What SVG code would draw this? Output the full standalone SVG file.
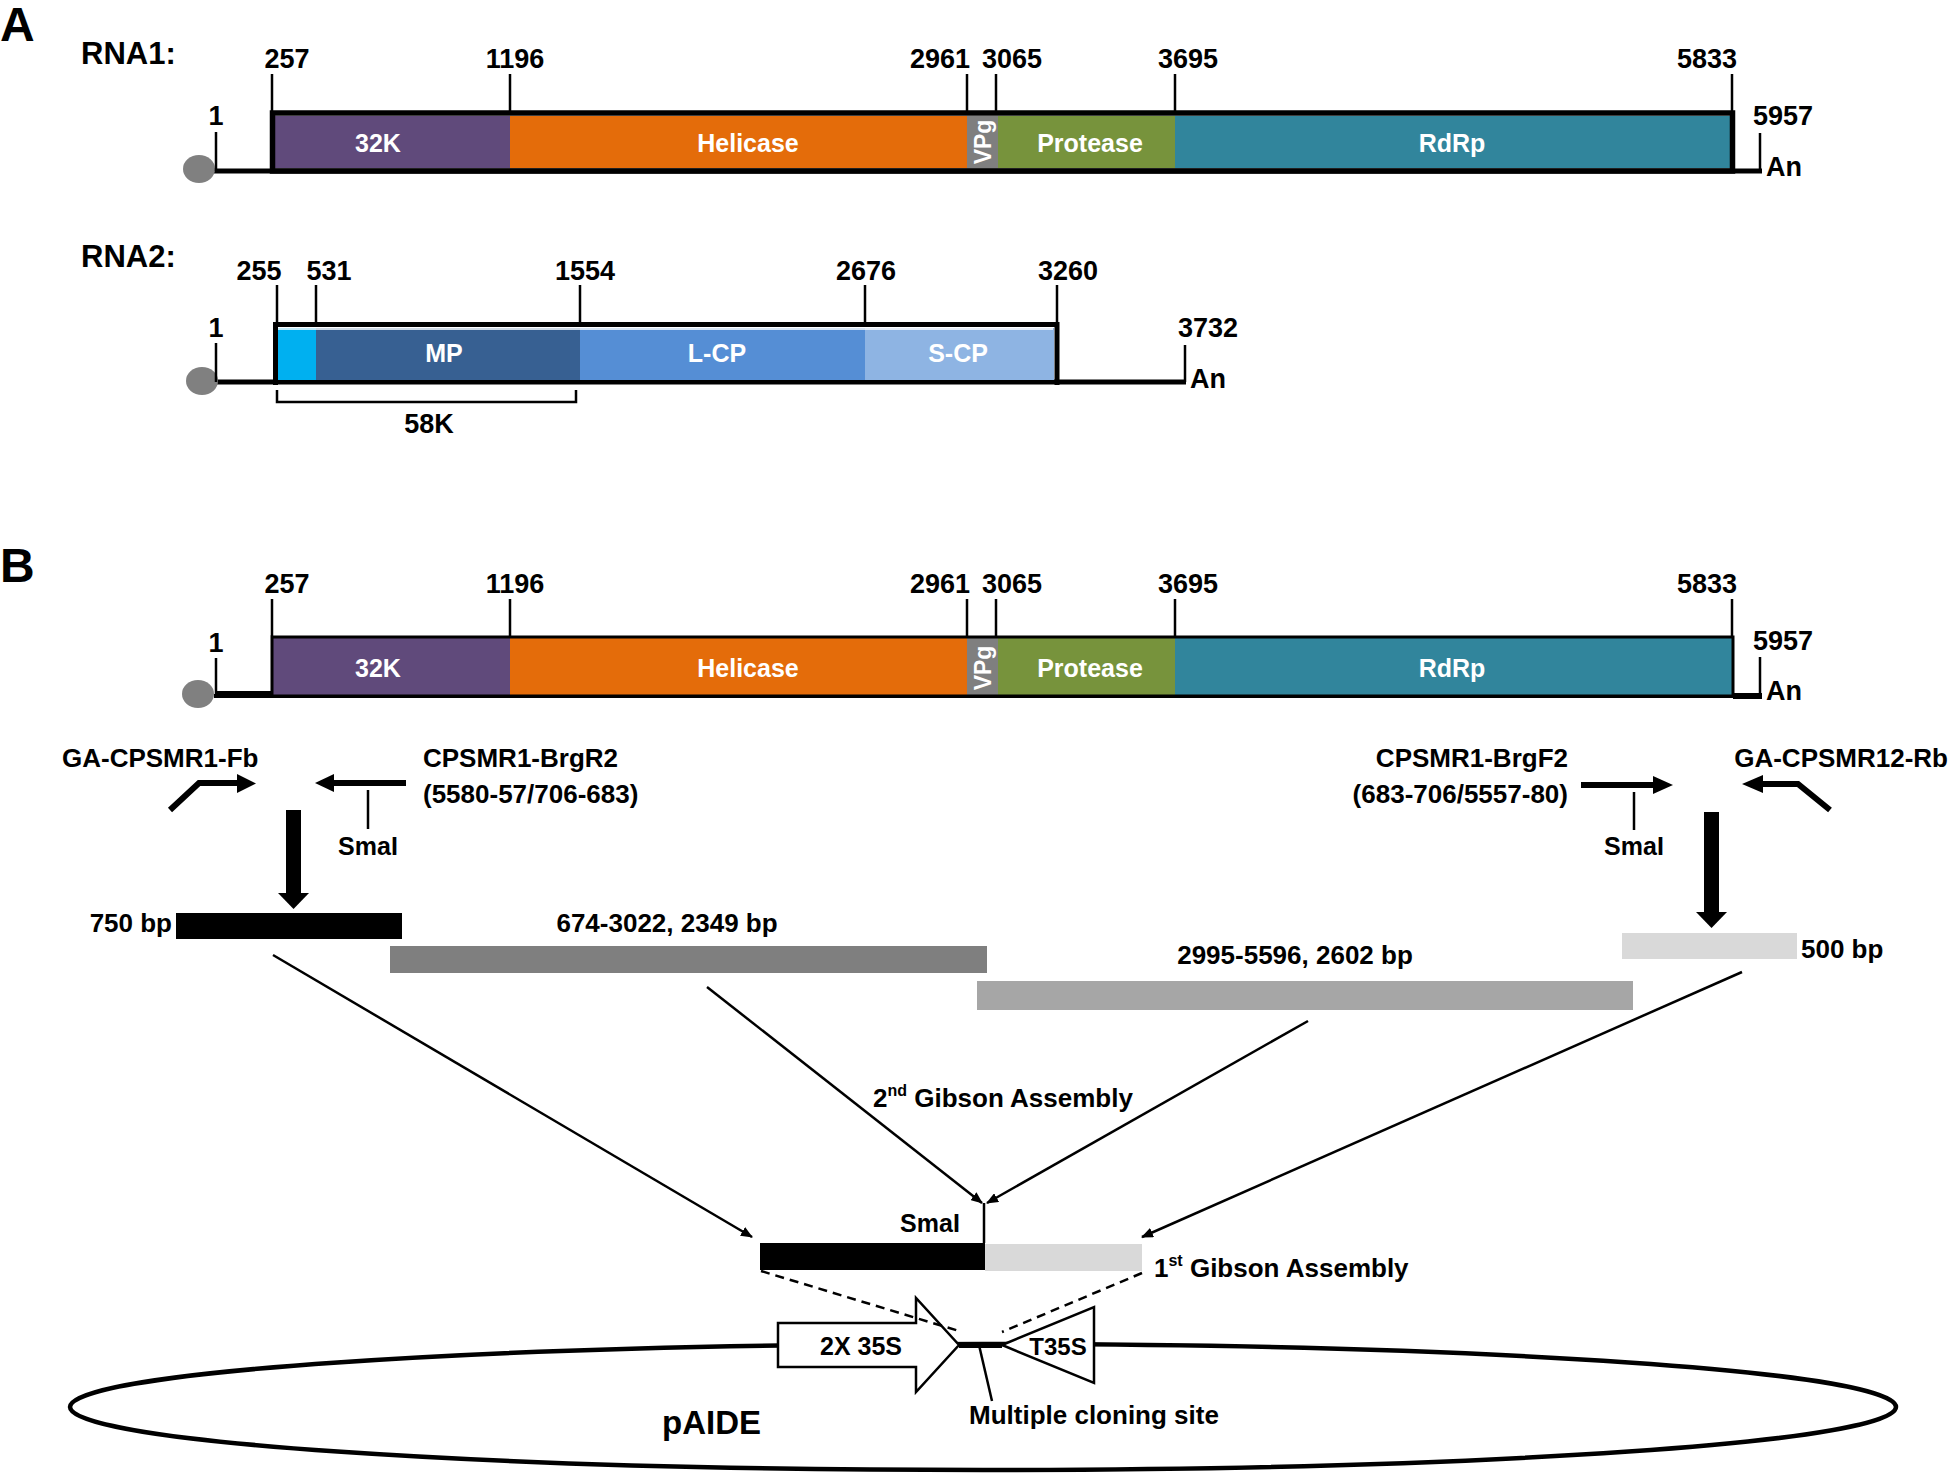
<svg xmlns="http://www.w3.org/2000/svg" width="1952" height="1477" viewBox="0 0 1952 1477">
<defs>
<style>
text{font-family:"Liberation Sans",Arial,sans-serif;font-weight:bold;fill:#000}
.big{font-size:48px}
.ttl{font-size:31px}
.num{font-size:27px;text-anchor:middle}
.seg{font-size:25px;fill:#fff;text-anchor:middle}
.vpg{font-size:23px;fill:#fff;text-anchor:middle}
.lbl{font-size:26px}
.sm{font-size:25px;text-anchor:middle}
.an{font-size:27px}
.mid{text-anchor:middle}
.end{text-anchor:end}
.tk{stroke:#000;stroke-width:2.5;fill:none}
.bb{stroke:#000;stroke-width:5;fill:none}
.con{stroke:#000;stroke-width:2.5;fill:none}
.dash{stroke:#000;stroke-width:2.5;fill:none;stroke-dasharray:9 6}
.cap{fill:#808080}
</style>
<marker id="ah" viewBox="0 0 12 10" refX="11" refY="5" markerWidth="12" markerHeight="10" markerUnits="userSpaceOnUse" orient="auto">
<path d="M0,0 L12,5 L0,10 Z" fill="#000"/>
</marker>
</defs>

<g id="panelA">
<text class="big" x="0" y="41">A</text>
<g id="rna1">
<text class="ttl" x="81" y="64">RNA1:</text>
<line class="bb" x1="214" y1="171" x2="1762" y2="171"/>
<ellipse class="cap" cx="199" cy="169" rx="16" ry="14"/>
<line class="tk" x1="216" y1="132" x2="216" y2="171"/>
<text class="num" x="216" y="125">1</text>
<rect x="273" y="116" width="237" height="52" fill="#604A7B"/>
<rect x="510" y="116" width="457" height="52" fill="#E46C0A"/>
<rect x="967" y="116" width="31" height="52" fill="#7F7F7F"/>
<rect x="998" y="116" width="177" height="52" fill="#77933C"/>
<rect x="1175" y="116" width="557" height="52" fill="#31859C"/>
<rect x="272.5" y="113" width="1460" height="58" fill="none" stroke="#000" stroke-width="5.5"/>
<text class="seg" x="378" y="152">32K</text>
<text class="seg" x="748" y="152">Helicase</text>
<text class="seg" x="1090" y="152">Protease</text>
<text class="seg" x="1452" y="152">RdRp</text>
<text class="vpg" transform="translate(991,142) rotate(-90)">VPg</text>
<g class="tk">
<line x1="272" y1="74" x2="272" y2="111"/>
<line x1="510" y1="74" x2="510" y2="111"/>
<line x1="967" y1="74" x2="967" y2="111"/>
<line x1="996" y1="74" x2="996" y2="111"/>
<line x1="1175" y1="74" x2="1175" y2="111"/>
<line x1="1732" y1="74" x2="1732" y2="111"/>
<line x1="1760" y1="133" x2="1760" y2="171"/>
</g>
<text class="num" x="287" y="68">257</text>
<text class="num" x="515" y="68">1196</text>
<text class="num" x="940" y="68">2961</text>
<text class="num" x="1012" y="68">3065</text>
<text class="num" x="1188" y="68">3695</text>
<text class="num" x="1707" y="68">5833</text>
<text class="num" x="1783" y="125">5957</text>
<text class="an" x="1766" y="176">An</text>
</g>

<g id="rna2">
<text class="ttl" x="81" y="267">RNA2:</text>
<line class="bb" x1="214" y1="382" x2="1186" y2="382"/>
<ellipse class="cap" cx="202" cy="381" rx="16" ry="14"/>
<line class="tk" x1="216" y1="343" x2="216" y2="382"/>
<text class="num" x="216" y="337">1</text>
<rect x="277" y="328" width="39" height="52" fill="#00B0F0"/>
<rect x="316" y="328" width="264" height="52" fill="#376092"/>
<rect x="580" y="328" width="285" height="52" fill="#558ED5"/>
<rect x="865" y="328" width="189" height="52" fill="#8EB4E3"/>
<line x1="278" y1="329" x2="1053" y2="329" stroke="#fff" stroke-width="1.5"/>
<path d="M275.5,385 V324.5 H1057 V385" fill="none" stroke="#000" stroke-width="5"/>
<text class="seg" x="444" y="362">MP</text>
<text class="seg" x="717" y="362">L-CP</text>
<text class="seg" x="958" y="362">S-CP</text>
<g class="tk">
<line x1="277" y1="285" x2="277" y2="323"/>
<line x1="316" y1="285" x2="316" y2="323"/>
<line x1="580" y1="285" x2="580" y2="323"/>
<line x1="865" y1="285" x2="865" y2="323"/>
<line x1="1057" y1="285" x2="1057" y2="323"/>
<line x1="1185" y1="345" x2="1185" y2="382"/>
<path d="M277,390 V402 H576 V390"/>
</g>
<text class="num" x="259" y="280">255</text>
<text class="num" x="329" y="280">531</text>
<text class="num" x="585" y="280">1554</text>
<text class="num" x="866" y="280">2676</text>
<text class="num" x="1068" y="280">3260</text>
<text class="num" x="1208" y="337">3732</text>
<text class="an" x="1190" y="388">An</text>
<text class="num" x="429" y="433">58K</text>
</g>
</g>

<g id="panelB">
<text class="big" x="0" y="582">B</text>
<g id="rna1b">
<line x1="214" y1="696" x2="1762" y2="696" stroke="#000" stroke-width="4"/>
<line x1="216" y1="694" x2="272" y2="694" stroke="#000" stroke-width="6"/>
<ellipse class="cap" cx="198" cy="694" rx="16" ry="14"/>
<line class="tk" x1="216" y1="658" x2="216" y2="696"/>
<text class="num" x="216" y="652">1</text>
<rect x="273" y="638" width="237" height="57" fill="#604A7B"/>
<rect x="510" y="638" width="457" height="57" fill="#E46C0A"/>
<rect x="967" y="638" width="31" height="57" fill="#7F7F7F"/>
<rect x="998" y="638" width="177" height="57" fill="#77933C"/>
<rect x="1175" y="638" width="557" height="57" fill="#31859C"/>
<rect x="272" y="637" width="1461" height="59" fill="none" stroke="#000" stroke-width="3"/>
<line x1="1733" y1="696" x2="1762" y2="696" stroke="#000" stroke-width="6"/>
<text class="seg" x="378" y="677">32K</text>
<text class="seg" x="748" y="677">Helicase</text>
<text class="seg" x="1090" y="677">Protease</text>
<text class="seg" x="1452" y="677">RdRp</text>
<text class="vpg" transform="translate(991,668) rotate(-90)">VPg</text>
<g class="tk">
<line x1="272" y1="599" x2="272" y2="636"/>
<line x1="510" y1="599" x2="510" y2="636"/>
<line x1="967" y1="599" x2="967" y2="636"/>
<line x1="996" y1="599" x2="996" y2="636"/>
<line x1="1175" y1="599" x2="1175" y2="636"/>
<line x1="1732" y1="599" x2="1732" y2="636"/>
<line x1="1760" y1="657" x2="1760" y2="696"/>
</g>
<text class="num" x="287" y="593">257</text>
<text class="num" x="515" y="593">1196</text>
<text class="num" x="940" y="593">2961</text>
<text class="num" x="1012" y="593">3065</text>
<text class="num" x="1188" y="593">3695</text>
<text class="num" x="1707" y="593">5833</text>
<text class="num" x="1783" y="650">5957</text>
<text class="an" x="1766" y="700">An</text>
</g>

<g id="primersLeft">
<text class="lbl" x="62" y="767">GA-CPSMR1-Fb</text>
<polyline points="170,810 199,783 240,783" fill="none" stroke="#000" stroke-width="6"/>
<polygon points="237,774 256,783.5 237,793" fill="#000"/>
<text class="lbl" x="423" y="767">CPSMR1-BrgR2</text>
<text class="lbl" x="423" y="803">(5580-57/706-683)</text>
<line x1="406" y1="783" x2="330" y2="783" stroke="#000" stroke-width="6"/>
<polygon points="334,774 315,783 334,792" fill="#000"/>
<line class="tk" x1="368" y1="790" x2="368" y2="829" stroke-width="2"/>
<text class="sm" x="368" y="855">SmaI</text>
<rect x="286" y="810" width="15" height="84" fill="#000"/>
<polygon points="278,893 309,893 293.5,909" fill="#000"/>
</g>

<g id="primersRight">
<text class="lbl end" x="1568" y="767">CPSMR1-BrgF2</text>
<text class="lbl end" x="1568" y="803">(683-706/5557-80)</text>
<line x1="1581" y1="785" x2="1656" y2="785" stroke="#000" stroke-width="6"/>
<polygon points="1653,776 1673,785 1653,794" fill="#000"/>
<line class="tk" x1="1634" y1="792" x2="1634" y2="830" stroke-width="2"/>
<text class="sm" x="1634" y="855">SmaI</text>
<text class="lbl end" x="1948" y="767">GA-CPSMR12-Rb</text>
<polyline points="1830,810 1798,784 1760,784" fill="none" stroke="#000" stroke-width="6"/>
<polygon points="1763,775 1742,784 1763,793" fill="#000"/>
<rect x="1704" y="812" width="15" height="101" fill="#000"/>
<polygon points="1696,912 1727,912 1711.5,928" fill="#000"/>
</g>

<g id="fragments">
<text class="lbl end" x="172" y="932">750 bp</text>
<rect x="176" y="913" width="226" height="26" fill="#000"/>
<text class="lbl mid" x="667" y="932">674-3022, 2349 bp</text>
<rect x="390" y="946" width="597" height="27" fill="#7F7F7F"/>
<text class="lbl mid" x="1295" y="964">2995-5596, 2602 bp</text>
<rect x="977" y="981" width="656" height="29" fill="#A6A6A6"/>
<rect x="1622" y="933" width="175" height="26" fill="#D9D9D9"/>
<text class="lbl" x="1801" y="958">500 bp</text>
</g>

<g id="plasmid">
<ellipse cx="983" cy="1407" rx="913" ry="63" fill="none" stroke="#000" stroke-width="4.5"/>
<line x1="959" y1="1345" x2="1002" y2="1345" stroke="#000" stroke-width="6"/>
<polygon points="778,1323 916,1323 916,1298 959,1345 916,1392 916,1367 778,1367" fill="#fff" stroke="#000" stroke-width="2.5"/>
<polygon points="1002,1345 1094,1307 1094,1383" fill="#fff" stroke="#000" stroke-width="2.5"/>
<text class="sm" x="861" y="1355">2X 35S</text>
<text class="sm" style="font-size:24px" x="1058" y="1355">T35S</text>
<text class="lbl" x="969" y="1424">Multiple cloning site</text>
<text class="lbl" style="font-size:33px" x="662" y="1434">pAIDE</text>
</g>

<g id="assembly">
<text class="lbl" x="873" y="1107">2<tspan style="font-size:16px" dy="-11">nd</tspan><tspan dy="11"> Gibson Assembly</tspan></text>
<text class="sm" x="930" y="1232">SmaI</text>
<rect x="760" y="1243" width="225" height="27" fill="#000"/>
<rect x="985" y="1244" width="157" height="27" fill="#D9D9D9"/>
<text class="lbl" x="1154" y="1277">1<tspan style="font-size:16px" dy="-11">st</tspan><tspan dy="11"> Gibson Assembly</tspan></text>
</g>

<g id="connectors">
<line class="con" x1="273" y1="955" x2="752" y2="1237" marker-end="url(#ah)"/>
<line class="con" x1="707" y1="987" x2="982" y2="1203" marker-end="url(#ah)"/>
<line class="con" x1="1308" y1="1021" x2="987" y2="1203" marker-end="url(#ah)"/>
<line class="con" x1="1742" y1="972" x2="1142" y2="1237" marker-end="url(#ah)"/>
<line class="tk" x1="984" y1="1203" x2="984" y2="1243" stroke-width="2"/>
<line class="dash" x1="761" y1="1271" x2="959" y2="1331"/>
<line class="dash" x1="1142" y1="1273" x2="1002" y2="1332"/>
<line class="tk" x1="979" y1="1345" x2="992" y2="1401" stroke-width="2"/>
</g>
</g>
</svg>
